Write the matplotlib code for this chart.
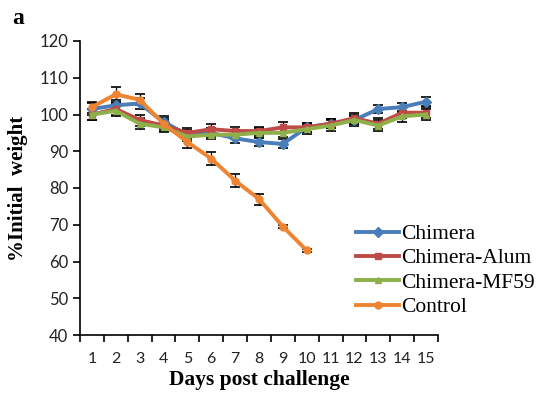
import matplotlib
matplotlib.use("Agg")
import matplotlib.pyplot as plt
import numpy as np

days = list(range(1, 16))
day_labels = [str(d) for d in days]

chimera = [101.5, 102.5, 103.0, 98.0, 94.5, 95.0, 93.5, 92.5, 92.0, 96.5, 97.5, 98.5, 101.5, 102.0, 103.5]
chimera_err = [1.5, 1.5, 1.5, 1.5, 1.2, 1.2, 1.2, 1.2, 1.2, 1.2, 1.2, 1.2, 1.2, 1.2, 1.2]
alum = [100.0, 101.5, 98.5, 97.0, 95.0, 96.0, 95.5, 95.5, 96.5, 96.5, 97.5, 99.0, 97.5, 100.5, 100.5]
alum_err = [1.5, 1.5, 1.5, 1.5, 1.2, 1.5, 1.2, 1.2, 1.5, 1.2, 1.2, 1.5, 1.5, 1.5, 1.5]
mf59 = [100.0, 101.0, 97.5, 96.5, 94.0, 94.5, 94.5, 95.0, 95.0, 96.0, 97.0, 98.5, 97.0, 99.5, 100.0]
mf59_err = [1.5, 1.5, 1.5, 1.2, 1.2, 1.2, 1.2, 1.2, 1.2, 1.2, 1.5, 1.5, 1.5, 1.5, 1.5]
control_days = list(range(1, 11))
control = [102.0, 105.5, 104.0, 97.5, 92.5, 88.0, 82.0, 77.0, 69.5, 63.0]
control_err = [1.5, 2.0, 1.5, 1.5, 1.5, 1.8, 1.8, 1.5, 0.5, 0.5]

series = [
    ("Chimera", days, chimera, chimera_err, "#4A7EBB", "D"),
    ("Chimera-Alum", days, alum, alum_err, "#BE4B48", "s"),
    ("Chimera-MF59", days, mf59, mf59_err, "#8DB04A", "^"),
    ("Control", control_days, control, control_err, "#EE8332", "o"),
]

fig = plt.figure(figsize=(5.42, 3.98), dpi=100)
ax = fig.add_axes([80/542, 1-335/398, 358/542, (335-41)/398])

for name, x, y, e, c, m in series:
    ax.errorbar(x, y, yerr=e, fmt="none", ecolor="black", elinewidth=0.9,
                capsize=3.5, capthick=1.2, zorder=2)
for name, x, y, e, c, m in series:
    ax.plot(x, y, color=c, marker=m, markersize=5, linewidth=2.8, label=name, zorder=3)

ax.set_xlim(0.5, 15.5)
ax.set_ylim(40, 120)
ax.set_yticks(np.arange(40, 121, 10))
ax.set_xticks(np.arange(0.5, 15.6, 1.0))
ax.set_xticklabels([])
ax.set_xticks(days, minor=True)
ax.set_xticklabels(day_labels, minor=True)
ax.tick_params(axis="x", which="major", length=5, width=1.2, direction="out")
ax.tick_params(axis="x", which="minor", length=0, pad=12, labelsize=11.5)
ax.tick_params(axis="y", length=5, width=1.2, direction="out", labelsize=12)
for lab in ax.get_xticklabels(minor=True) + ax.get_yticklabels():
    lab.set_fontfamily("Lato")
    lab.set_color("#222222")

for s in ["top", "right"]:
    ax.spines[s].set_visible(False)
for s in ["left", "bottom"]:
    ax.spines[s].set_linewidth(1.2)

ax.set_ylabel("%Initial  weight", fontfamily="Liberation Serif", fontweight="bold",
              fontsize=15, labelpad=8)
ax.set_xlabel("Days post challenge", fontfamily="Liberation Serif", fontweight="bold",
              fontsize=15.5, labelpad=3)

leg = ax.legend(loc="upper left", bbox_to_anchor=(356/542, 1-224/398),
                bbox_transform=fig.transFigure, frameon=False,
                prop={"family": "Liberation Serif", "size": 15.5},
                handlelength=2.0, handletextpad=0.1, labelspacing=0.2,
                borderaxespad=0, borderpad=0)

fig.text(12/542, 1-18/398, "a", fontfamily="Liberation Serif", fontweight="bold",
         fontsize=17, va="center", ha="left")

fig.savefig("out.png", dpi=100)
